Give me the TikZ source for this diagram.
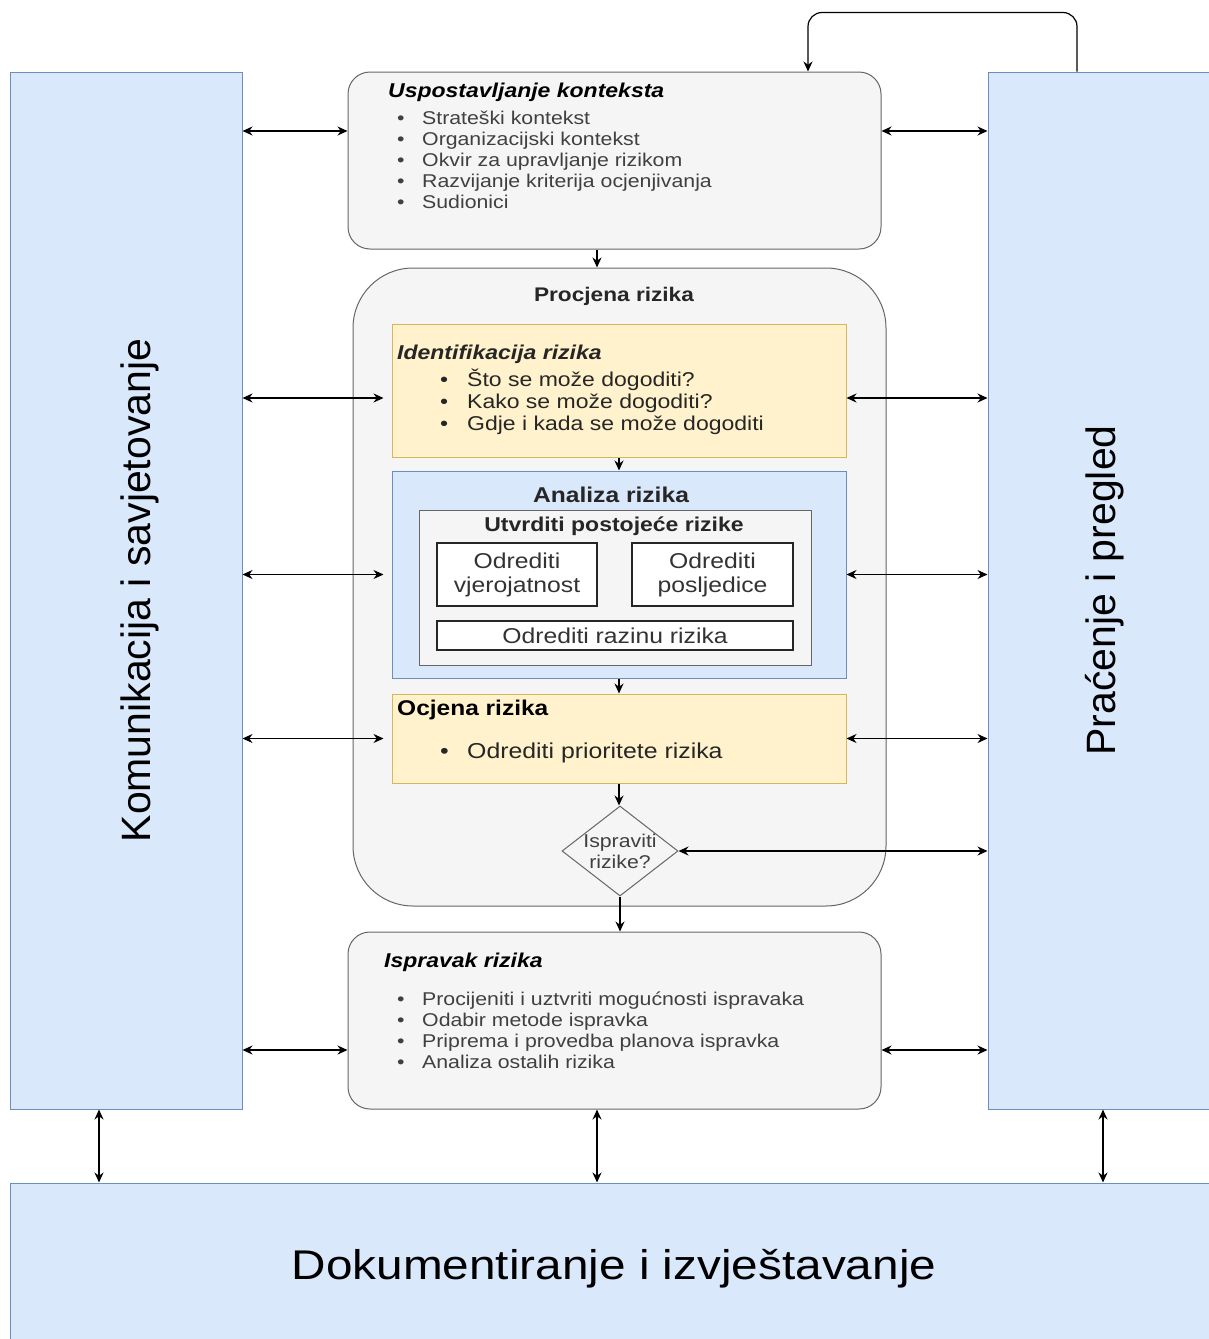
\documentclass[tikz,border=0pt]{standalone}
\usepackage{fontspec}
\setmainfont{Liberation Sans}[FakeStretch=1.15]
\newfontfamily\uprightsans{Liberation Sans}
\usepackage{xcolor}
\usepackage{tikz}
\usetikzlibrary{arrows.meta,shapes.geometric}

\definecolor{barfill}{HTML}{DAE8FC}
\definecolor{barline}{HTML}{6C8EBF}
\definecolor{grayfill}{HTML}{F5F5F5}
\definecolor{grayline}{HTML}{666666}
\definecolor{yelfill}{HTML}{FFF2CC}
\definecolor{yelline}{HTML}{D6B656}

\begin{document}
\begin{tikzpicture}[
  x=1pt, y=-1pt,
  bar/.style={draw=barline, fill=barfill, line width=1pt, inner sep=0pt},
  graybox/.style={draw=grayline, fill=grayfill, line width=1pt, rounded corners=22pt, inner sep=0pt},
  yellowbox/.style={draw=yelline, fill=yelfill, line width=1pt, inner sep=0pt},
  bluebox/.style={draw=barline, fill=barfill, line width=1pt, inner sep=0pt},
  innerbox/.style={draw=grayline, fill=grayfill, line width=1pt, inner sep=0pt},
  whitebox/.style={draw=black!85, fill=white, line width=1.5pt, align=center, inner sep=0pt, font=\fontsize{21.5}{24}\selectfont, text=black!80},
  decision/.style={diamond, draw=grayline, fill=grayfill, line width=1pt, inner sep=0pt, minimum width=116pt, minimum height=90pt, align=center, font=\fontsize{18.5}{21}\selectfont, text=black!75},
  title/.style={anchor=base west, inner sep=0pt, font=\fontsize{20}{24}\selectfont\bfseries\itshape},
  heading/.style={anchor=base, inner sep=0pt, font=\fontsize{21}{24}\selectfont\bfseries, text=black!85},
  item/.style={anchor=base west, inner sep=0pt, font=\fontsize{18.5}{21}\selectfont, text=black!75},
  bigitem/.style={item, font=\fontsize{20.5}{22}\selectfont, text=black!85},
  biglabel/.style={inner sep=0pt, font=\uprightsans\fontsize{41}{48}\selectfont},
  dbl/.style={{Stealth[length=10pt,width=9pt]}-{Stealth[length=10pt,width=9pt]}, line width=1.2pt},
  flow/.style={-{Stealth[length=10pt,width=9pt]}, line width=1.2pt}
]
  \useasboundingbox (0,0) rectangle (1209,1339);

  % side and bottom bars
  \node[bar, minimum width=232pt, minimum height=1037pt] (komu) at (126,590.5) {};
  \node[biglabel, rotate=90] (komu-txt) at ([xshift=14pt]komu.center) {Komunikacija i savjetovanje};
  \node[bar, minimum width=222pt, minimum height=1037pt] (prac) at (1099,590.5) {};
  \node[biglabel, rotate=90] (prac-txt) at ([xshift=6pt]prac.center) {Praćenje i pregled};
  \node[bar, minimum width=1200pt, minimum height=157pt] (doc) at (610,1261.5) {};
  \node[inner sep=0pt, font=\fontsize{41.5}{48}\selectfont] (doc-txt) at ([xshift=4pt, yshift=-7pt]doc.center) {Dokumentiranje i izvještavanje};

  % context
  \node[graybox, minimum width=533pt, minimum height=177pt] (ctx) at (614.5,160.5) {};
  \node[title] (ctx-title) at (388,97) {Uspostavljanje konteksta};
  \foreach \txt [count=\i] in {Strateški kontekst, Organizacijski kontekst, Okvir za upravljanje rizikom, Razvijanje kriterija ocjenjivanja, Sudionici}
    \node[item] (ctx-\i) at (397,103+21*\i) {\makebox[25pt][l]{\textbullet}\txt};

  % risk assessment
  \node[graybox, rounded corners=60pt, minimum width=533pt, minimum height=638pt] (proc) at (619.5,587) {};
  \node[heading, font=\fontsize{19.7}{24}\selectfont\bfseries] (proc-title) at (614,301) {Procjena rizika};

  \node[yellowbox, minimum width=454pt, minimum height=133pt] (ident) at (619,390.5) {};
  \node[title, text=black!85] (ident-title) at (397,359) {Identifikacija rizika};
  \foreach \txt [count=\i] in {Što se može dogoditi?, Kako se može dogoditi?, Gdje i kada se može dogoditi}
    \node[item, font=\fontsize{20}{22}\selectfont, text=black!85] (ident-\i) at (440,364+22*\i) {\makebox[27pt][l]{\textbullet}\txt};

  \node[bluebox, minimum width=454pt, minimum height=207pt] (anal) at (619,574.5) {};
  \node[heading, font=\fontsize{21.4}{24}\selectfont\bfseries] (anal-title) at (611,502) {Analiza rizika};
  \node[innerbox, minimum width=392pt, minimum height=155pt] (exist) at (615,587.5) {};
  \node[heading, font=\fontsize{20}{24}\selectfont\bfseries] (exist-title) at (614,531) {Utvrditi postojeće rizike};
  \node[whitebox, minimum width=160pt, minimum height=63pt] (prob) at (517,574.5) {Odrediti\\vjerojatnost};
  \node[whitebox, minimum width=161pt, minimum height=63pt] (cons) at (712.5,574.5) {Odrediti\\posljedice};
  \node[whitebox, minimum width=356pt, minimum height=29pt] (level) at (615,635.5) {Odrediti razinu rizika};

  \node[yellowbox, minimum width=454pt, minimum height=89pt] (eval) at (619,738.5) {};
  \node[title, font=\fontsize{21.3}{24}\selectfont\bfseries] (eval-title) at (397,715) {Ocjena rizika};
  \node[bigitem, font=\fontsize{21.6}{24}\selectfont] (eval-1) at (440,758) {\makebox[27pt][l]{\textbullet}Odrediti prioritete rizika};

  \node[decision] (dec) at (620,851) {\makebox[0pt]{Ispraviti}\\\makebox[0pt]{rizike?}};

  % treatment
  \node[graybox, minimum width=533pt, minimum height=177pt] (treat) at (614.5,1020.5) {};
  \node[title] (treat-title) at (384,967) {Ispravak rizika};
  \foreach \txt [count=\i] in {Procijeniti i uztvriti mogućnosti ispravaka, Odabir metode ispravka, Priprema i provedba planova ispravka, Analiza ostalih rizika}
    \node[item] (treat-\i) at (397,984+21*\i) {\makebox[25pt][l]{\textbullet}\txt};

  % flow down the middle
  \coordinate (ctx-out) at ([xshift=-17.5pt]ctx.south);
  \draw[flow] (ctx-out) -- (ctx-out |- proc.north);
  \draw[flow] (ident.south) -- (anal.north);
  \draw[flow] (anal.south) -- (anal.south |- eval.north);
  \draw[flow] (eval.south) -- (eval.south |- dec.north);
  \draw[flow] (dec.south) -- (dec.south |- treat.north);

  % feedback from monitoring
  \draw[flow, rounded corners=14pt] ([xshift=-22pt]prac.north) -- ++(0,-59) -| ([xshift=193.5pt]ctx.north);

  % communication links
  \coordinate (ctx-l) at ([yshift=29.5pt]ctx.west);
  \coordinate (ctx-r) at ([yshift=29.5pt]ctx.east);
  \coordinate (ident-l) at ([yshift=-7.5pt]ident.west);
  \coordinate (ident-r) at ([yshift=-7.5pt]ident.east);
  \coordinate (treat-l) at ([yshift=-29.5pt]treat.west);
  \coordinate (treat-r) at ([yshift=-29.5pt]treat.east);
  \draw[dbl] (komu.east |- ctx-l) -- (ctx-l);
  \draw[dbl] (ctx-r) -- (ctx-r -| prac.west);
  \draw[dbl, shorten >=8pt] (komu.east |- ident-l) -- (ident-l);
  \draw[dbl] (ident-r) -- (ident-r -| prac.west);
  \draw[dbl, shorten >=8pt] (komu.east |- anal.west) -- (anal.west);
  \draw[dbl] (anal.east) -- (anal.east -| prac.west);
  \draw[dbl, shorten >=8pt] (komu.east |- eval.west) -- (eval.west);
  \draw[dbl] (eval.east) -- (eval.east -| prac.west);
  \draw[dbl] (dec.east) -- (dec.east -| prac.west);
  \draw[dbl] (komu.east |- treat-l) -- (treat-l);
  \draw[dbl] (treat-r) -- (treat-r -| prac.west);

  % documentation links
  \coordinate (komu-out) at ([xshift=-27pt]komu.south);
  \coordinate (treat-out) at ([xshift=-17.5pt]treat.south);
  \coordinate (prac-out) at ([xshift=4pt]prac.south);
  \draw[dbl] (komu-out) -- (komu-out |- doc.north);
  \draw[dbl] (treat-out) -- (treat-out |- doc.north);
  \draw[dbl] (prac-out) -- (prac-out |- doc.north);
\end{tikzpicture}
\end{document}
